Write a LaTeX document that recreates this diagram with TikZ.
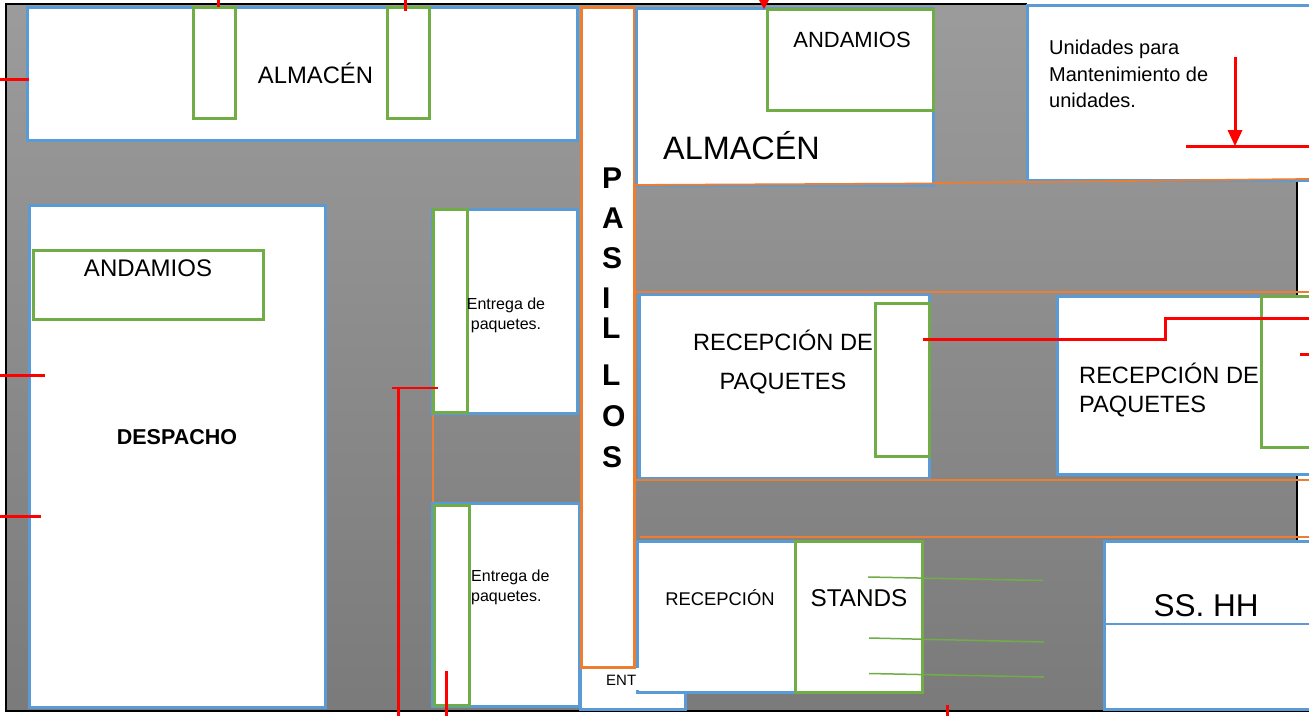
\documentclass[tikz,border=0pt]{standalone}
\usepackage{fontspec}
\setmainfont{Liberation Sans}
\definecolor{roomblue}{HTML}{5B9BD5}
\definecolor{rackgreen}{HTML}{70AD47}
\definecolor{hallorange}{HTML}{ED7D31}
\newcommand{\fsz}[1]{\fontsize{#1}{#1}\selectfont}
\tikzset{
  x=1pt,y=-1pt,
  room/.style={draw=roomblue,line width=3pt,fill=white},
  rack/.style={draw=rackgreen,line width=3pt,fill=white},
  hall/.style={draw=hallorange,line width=3pt,fill=white},
  hline/.style={draw=hallorange,line width=1.8pt},
  mark line/.style={draw=red,line width=3pt},
  stand line/.style={draw=rackgreen,line width=1.5pt},
  lbl/.style={inner sep=0pt,text=black},
}
\begin{document}
\begin{tikzpicture}
\useasboundingbox (0,0) rectangle (1309,716);
\fill[white] (0,0) rectangle (1309,716);
% floor
\shade[top color=black!39,bottom color=black!52] (6,4) rectangle (1297,711);
\draw[black,line width=1.8pt] (1297,540) -- (1297,181);
\draw[black,line width=1.8pt] (1027,4) -- (6,4) -- (6,711) -- (1309,711);
% top-left store
\draw[room] (27,7) rectangle (577,140);
\draw[rack] (193,7) rectangle (235,118);
\draw[rack] (387,7) rectangle (429,118);
\node[lbl,font=\fsz{23.8}] (alm1) at (315.5,73.5) {ALMACÉN};
% despacho
\draw[room] (29,205) rectangle (325,707);
\draw[rack] (33,250) rectangle (263,319);
\node[lbl,font=\fsz{24}] (and1) at (148,268) {ANDAMIOS};
\node[lbl,font=\fsz{21.5}\bfseries] (desp) at (177,437) {DESPACHO};
% delivery rooms
\draw[hallorange,line width=2pt] (433,415) -- (433,502);
\draw[room] (432,209) rectangle (577,413);
\draw[rack] (433,209) rectangle (467,412);
\node[lbl,font=\fsz{16},align=center] (ent1) at (506,315.5) {Entrega de\\[4pt]paquetes.};
\draw[room] (432,503) rectangle (579,706);
\draw[rack] (434,505) rectangle (469,705);
\node[lbl,font=\fsz{16},align=left,anchor=west] (ent2) at (471,587.5) {Entrega de\\[4pt]paquetes.};
% entrance room
\draw[room] (580,667) rectangle (685,709);
% corridor lines
\draw[hline] (636,292) -- (1309,292);
\draw[hline,line width=2pt] (640,537) -- (1309,537);
\draw[hallorange,line width=2pt] (634,185) -- (634,540);
% corridor
\draw[hall] (581,7) rectangle (634,667);
\node[lbl,font=\fsz{30}\bfseries,align=left,anchor=north west] (pas) at (602,168)
  {P\\[9.5pt]A\\[10pt]S\\[10pt]I\\[0pt]L\\[17pt]L\\[11pt]O\\[11pt]S};
\node[lbl,font=\fsz{15},anchor=west] (ent) at (606,680) {ENT};
% top store right
\draw[room] (636,8) rectangle (933,185);
\draw[rack] (767,9) rectangle (933,110);
\node[lbl,font=\fsz{22}] (and2) at (852,40) {ANDAMIOS};
\node[lbl,font=\fsz{32.4}] (alm2) at (741.5,145.5) {ALMACÉN};
\draw[hline] (634,185) -- (933,183.5);
% units
\draw[room] (1027,5) rectangle (1312,180);
\node[lbl,font=\fsz{20},align=left,anchor=north west] (uni) at (1049,40)
  {Unidades para\\[6.5pt]Mantenimiento de\\[6.5pt]unidades.};
\draw[hline] (933,183) -- (1309,179);
% reception rooms
\draw[room] (639,294) rectangle (929,478);
\draw[rack] (875,303) rectangle (929,456);
\node[lbl,font=\fsz{23.6},align=center] (rec1) at (783,362) {RECEPCIÓN DE\\[15pt]PAQUETES};
\draw[room] (1057,296) rectangle (1312,474);
\draw[rack] (1261,296) rectangle (1312,447);
\node[lbl,font=\fsz{23.6},align=left,anchor=west] (rec2) at (1079,390) {RECEPCIÓN DE\\[6pt]PAQUETES};
\draw[hallorange,line width=2.2pt] (634,480) -- (1309,480);
% front rooms
\draw[room] (637,541) rectangle (795,692);
\fill[white] (635.5,668) rectangle (639,690);
\draw[hallorange,line width=3pt] (634,540) -- (634,667);
\draw[rack] (795,541) rectangle (922,692);
\node[lbl,font=\fsz{18.4}] (recp) at (720,598) {RECEPCIÓN};
\node[lbl,font=\fsz{24.3}] (stands) at (859,598) {STANDS};
\draw[room] (1104,541) rectangle (1312,709);
\draw[roomblue,line width=1.5pt] (1104,624) -- (1309,624);
\node[lbl,font=\fsz{31.5}] (ss) at (1206,606) {SS. HH};
% stand lines
\draw[stand line] (868,577) -- (1043,580.5);
\draw[stand line] (869,638) -- (1044,642);
\draw[stand line] (869,673.5) -- (1044,677);
% red marks
\coordinate (r1a) at (218,0); \coordinate (r1b) at (218,7);
\coordinate (r2a) at (405,0); \coordinate (r2b) at (405,11);
\draw[mark line] (r1a) -- (r1b);
\draw[mark line] (r2a) -- (r2b);
\draw[mark line] (0,79) -- (29,79);
\draw[mark line] (0,375) -- (45,375);
\draw[mark line] (0,516) -- (41,516);
\draw[mark line] (398,388) -- (398,716);
\draw[mark line,line width=1.8pt] (392,388) -- (438,388);
\draw[mark line] (446,671) -- (446,716);
\draw[mark line] (947,705) -- (947,716);
\draw[mark line] (923,339) -- (1165,339) -- (1165,318) -- (1309,318);
\draw[mark line] (1300,354) -- (1309,354);
\draw[mark line] (1186,146) -- (1309,146);
\draw[mark line] (1235,57) -- (1235,132);
\fill[red] (1235,146) -- (1227.5,130) -- (1242.5,130) -- cycle;
\fill[red] (764,9) -- (759,0) -- (769,0) -- cycle;
\end{tikzpicture}
\end{document}
